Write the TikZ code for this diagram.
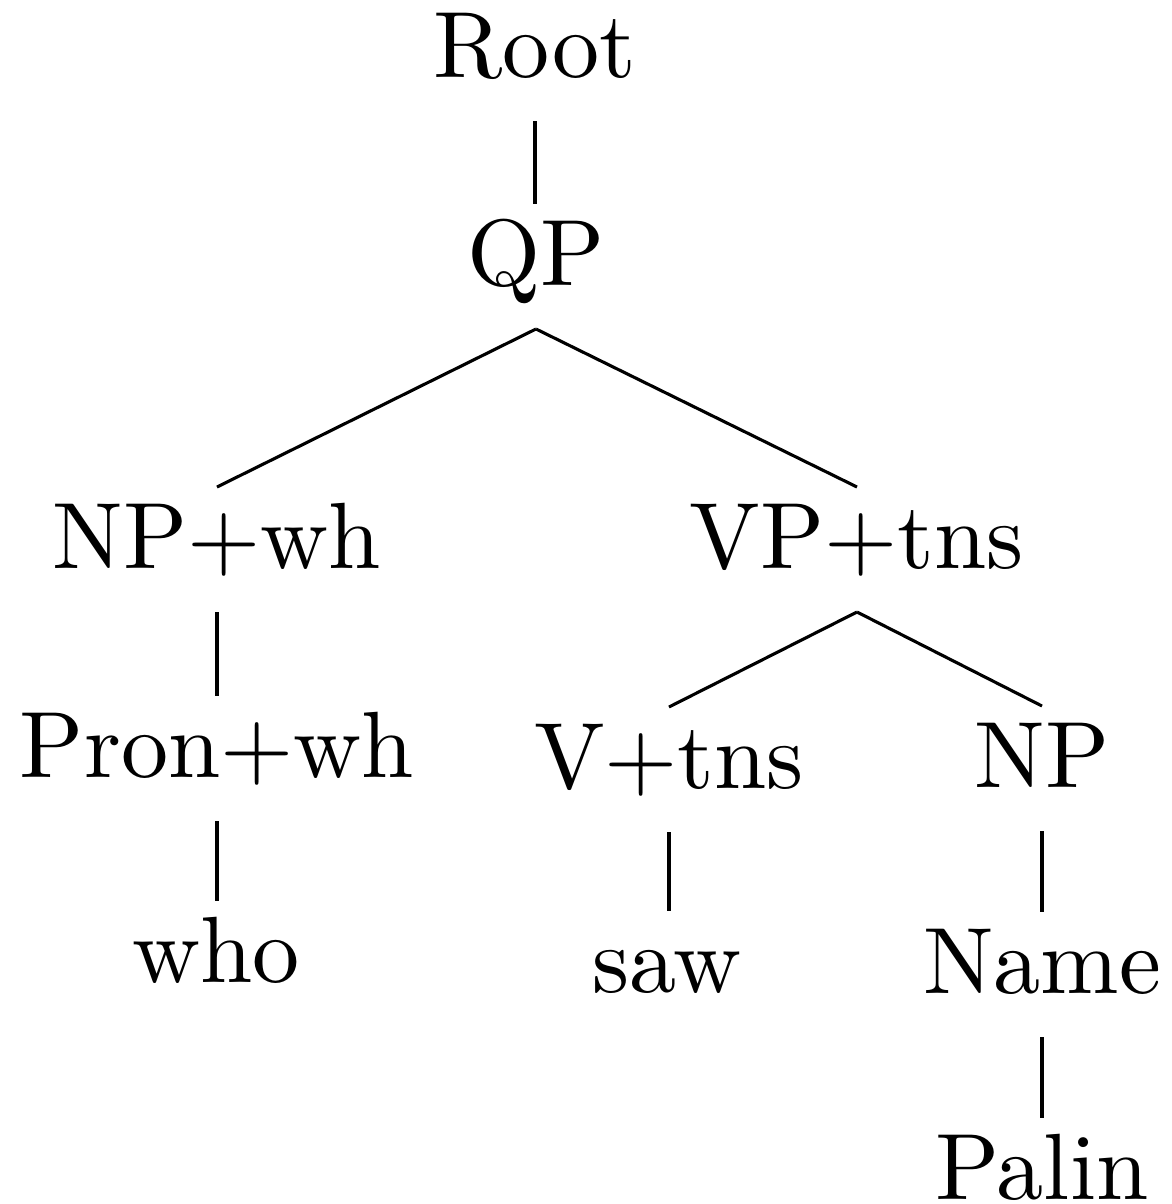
\documentclass[tikz,border=0pt]{standalone}
\usetikzlibrary{calc}
\begin{document}
\begin{tikzpicture}[x=0.1062pt, y=-0.1062pt,
    cat/.style={anchor=base, inner sep=0pt, font=\fontsize{10}{12}\selectfont},
    branch/.style={line width=0.33pt, black}]
  \useasboundingbox (0,0) rectangle (1171,1204);
  % categories and words, placed on their baselines
  \node[cat] (root)  at (535,77)  {Root};
  \node[cat] (qp)    at (536,285) {QP};
  \node[cat] (npwh)  at (217,568) {NP+wh};
  \node[cat] (vptns) at (857,568) {VP+tns};
  \node[cat] (pron)  at (217,777) {Pron+wh};
  \node[cat] (vtns)  at (669,788) {V+tns};
  \node[cat] (np)    at (1042,787) {NP};
  \node[cat] (who)   at (216,982) {who};
  \node[cat] (saw)   at (667,992) {saw};
  \node[cat] (name)  at (1042,993) {Name};
  \node[cat] (palin) at (1042,1199) {Palin};
  % binary branches: from below the parent's baseline to above the child's
  \foreach \p/\c in {qp/npwh, qp/vptns, vptns/vtns, vptns/np}
    \draw[branch] ($(\p.base)+(0,44)$) -- ($(\c.base)+(0,-81)$);
  % unary branches drop straight down from the parent
  \foreach \p/\c in {root/qp, npwh/pron, pron/who, vtns/saw, np/name, name/palin}
    \draw[branch] ($(\p.base)+(0,44)$) -- ($(\p.base |- \c.base)+(0,-81)$);
\end{tikzpicture}
\end{document}
